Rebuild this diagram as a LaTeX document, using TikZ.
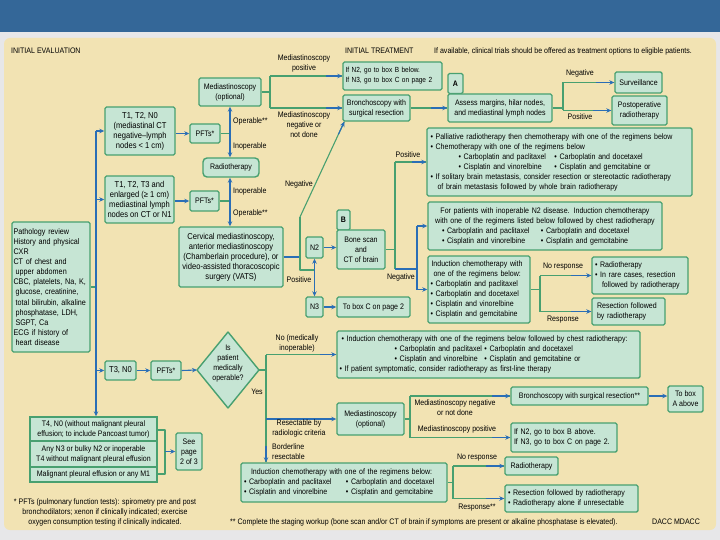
\documentclass[tikz,border=0pt]{standalone}
\usepackage{fontspec}
\setmainfont{Liberation Sans}[FakeStretch=0.88]
\usetikzlibrary{arrows.meta,calc}
\definecolor{bfill}{RGB}{198,229,212}
\definecolor{bline}{RGB}{72,160,112}
\definecolor{barrow}{RGB}{42,110,182}
\definecolor{beige}{RGB}{242,227,179}
\definecolor{topband}{RGB}{52,103,152}
\definecolor{grayb}{RGB}{231,231,233}
\newcommand\fontMain{\fontsize{8}{10}\selectfont}
\newcommand\fontBig{\fontsize{8.6}{10}\selectfont}
\newcommand\fontPath{\fontsize{8.2}{10.1}\selectfont}
\newcommand\fontSmall{\fontsize{7.4}{10}\selectfont}
\tikzset{
 bx/.style={draw=bline, fill=bfill, line width=1.4pt, rounded corners=1.5pt, inner sep=0pt, align=center, font=\fontMain},
 lbl/.style={inner sep=0pt, align=center, font=\fontMain},
 gl/.style={draw=bline, line width=1.1pt, line join=round},
 bl/.style={draw=barrow, line width=1.1pt, line join=round},
 arr/.style={draw=barrow, line width=1.1pt, -{Stealth[length=5pt,width=4.5pt]}},
 dia/.style={draw=bline, fill=bfill, line width=1.4pt, line join=round},
}
\begin{document}
\begin{tikzpicture}[x=1pt,y=-1pt]
\useasboundingbox (0,0) rectangle (720,540);
\fill[grayb] (0,0) rectangle (720,540);
\fill[topband] (0,0) rectangle (720,32);
\fill[beige, rounded corners=6pt] (4,38) rectangle (716,530);

% headers
\node[lbl, anchor=west] (hEval) at (11,51) {INITIAL EVALUATION};
\node[lbl, anchor=west] (hTreat) at (345,51) {INITIAL TREATMENT};
\node[lbl, anchor=west] (hTrials) at (434,51) {If available, clinical trials should be offered as treatment options to eligible patients.};

% left column
\node[bx, font=\fontPath, minimum width=78pt, minimum height=130pt, text width=75pt, align=left] (path) at (51,287)
 {Pathology review\\History and physical\\CXR\\CT of chest and\\\hspace*{2pt}upper abdomen\\CBC, platelets, Na, K,\\\hspace*{2pt}glucose, creatinine,\\\hspace*{2pt}total bilirubin, alkaline\\\hspace*{2pt}phosphatase, LDH,\\\hspace*{2pt}SGPT, Ca\\ECG if history of\\\hspace*{2pt}heart disease};
\node[bx, font=\fontBig, minimum width=70pt, minimum height=48pt] (t1n0) at (140,131) {T1, T2, N0\\(mediastinal CT\\negative--lymph\\nodes < 1 cm)};
\node[bx, font=\fontBig, minimum width=69pt, minimum height=47pt] (t123) at (139.5,199.5) {T1, T2, T3 and\\enlarged (≥ 1 cm)\\mediastinal lymph\\nodes on CT or N1};
\node[bx, font=\fontBig, minimum width=31pt, minimum height=19pt] (t3n0) at (120.5,370.5) {T3, N0};
\node[bx, rounded corners=0pt, minimum width=127pt, minimum height=24pt] (t4a) at (93.5,429) {T4, N0 (without malignant pleural\\effusion; to include Pancoast tumor)};
\node[bx, rounded corners=0pt, minimum width=127pt, minimum height=26pt] (t4b) at (93.5,454) {Any N3 or bulky N2 or inoperable\\T4 without malignant pleural effusion};
\node[bx, rounded corners=0pt, minimum width=127pt, minimum height=15pt] (t4c) at (93.5,474.5) {Malignant pleural effusion or any M1};
\node[bx, minimum width=26pt, minimum height=37pt] (seepage) at (189,451.5) {See\\page\\2 of 3};

% PFTs and related
\node[bx, minimum width=30pt, minimum height=19pt] (pft1) at (205,133.5) {PFTs*};
\node[bx, minimum width=29pt, minimum height=20pt] (pft2) at (204.5,201) {PFTs*};
\node[bx, minimum width=30pt, minimum height=19pt] (pft3) at (166,370.5) {PFTs*};
\node[bx, minimum width=62pt, minimum height=28pt] (med1) at (230,92) {Mediastinoscopy\\(optional)};
\node[bx, rounded corners=4pt, minimum width=56pt, minimum height=19pt] (radio1) at (231,167.5) {Radiotherapy};
\node[bx, font=\fontBig, minimum width=104pt, minimum height=60pt] (cerv) at (231,257) {Cervical mediastinoscopy,\\anterior mediastinoscopy\\(Chamberlain procedure), or\\video-assisted thoracoscopic\\surgery (VATS)};

% N2 / N3
\node[bx, minimum width=17pt, minimum height=21pt] (n2) at (314.5,247.5) {N2};
\node[bx, minimum width=17pt, minimum height=20pt] (n3) at (314.5,307) {N3};
\node[bx, minimum width=13pt, minimum height=20pt] (btab) at (343.5,220) {\textbf{B}};
\node[bx, minimum width=48pt, minimum height=39pt] (bmain) at (361,249.5) {Bone scan\\and\\CT of brain};
\node[bx, minimum width=73pt, minimum height=20pt] (toC) at (373.5,307) {To box C on page 2};

% top treatment
\node[bx, font=\fontSmall, minimum width=99pt, minimum height=28pt, text width=94pt, align=left] (ifN2top) at (392.5,76) {If N2, go to box B below.\\If N3, go to box C on page 2};
\node[bx, minimum width=67pt, minimum height=26pt] (bronch) at (376.5,108) {Bronchoscopy with\\surgical resection};
\node[bx, minimum width=15pt, minimum height=20pt] (atab) at (455.5,83.5) {\textbf{A}};
\node[bx, minimum width=104pt, minimum height=28pt] (amain) at (500,108) {Assess margins, hilar nodes,\\and mediastinal lymph nodes};
\node[bx, minimum width=47pt, minimum height=21pt] (surv) at (638.5,82.5) {Surveillance};
\node[bx, minimum width=55pt, minimum height=29pt] (postop) at (639.5,110.5) {Postoperative\\radiotherapy};

\node[bx, minimum width=265pt, minimum height=68pt, text width=258pt, align=left] (pall) at (559.5,162)
 {• Palliative radiotherapy then chemotherapy with one of the regimens below\\
  • Chemotherapy with one of the regimens below\\
  \hspace*{28pt}\makebox[96pt][l]{• Carboplatin and paclitaxel}• Carboplatin and docetaxel\\
  \hspace*{28pt}\makebox[96pt][l]{• Cisplatin and vinorelbine}• Cisplatin and gemcitabine or\\
  • If solitary brain metastasis, consider resection or stereotactic radiotherapy\\
  \hspace*{7pt}of brain metastasis followed by whole brain radiotherapy};
\node[bx, minimum width=234pt, minimum height=48pt, text width=228pt, align=left] (forpat) at (545,226)
 {\makebox[228pt][c]{For patients with inoperable N2 disease. Induction chemotherapy}\\
  \makebox[228pt][c]{with one of the regimens listed below followed by chest radiotherapy}\\
  \hspace*{11pt}\makebox[99pt][l]{• Carboplatin and paclitaxel}• Carboplatin and docetaxel\\
  \hspace*{11pt}\makebox[99pt][l]{• Cisplatin and vinorelbine}• Cisplatin and gemcitabine};
\node[bx, minimum width=102pt, minimum height=67pt, text width=97pt, align=left] (induct1) at (479,289.5)
 {\hspace*{1pt}Induction chemotherapy with\\\hspace*{3pt}one of the regimens below:\\• Carboplatin and paclitaxel\\• Carboplatin and docetaxel\\• Cisplatin and vinorelbine\\• Cisplatin and gemcitabine};
\node[bx, minimum width=96pt, minimum height=37pt, text width=90pt, align=left] (radbul) at (640,275.5)
 {• Radiotherapy\\• In rare cases, resection\\\hspace*{7pt}followed by radiotherapy};
\node[bx, minimum width=73pt, minimum height=27pt, text width=67pt, align=left] (resec1) at (628.5,311.5)
 {\hspace*{2pt}Resection followed\\\hspace*{2pt}by radiotherapy};

% T3 N0 pathway
\coordinate (dl) at (197,370);
\coordinate (dt) at (228,332);
\coordinate (dr) at (259,370);
\coordinate (db) at (228,408);
\filldraw[dia] (dl) -- (dt) -- (dr) -- (db) -- cycle;
\node[lbl] (opq) at (228,364) {Is\\patient\\medically\\operable?};

\node[bx, minimum width=303pt, minimum height=47pt, text width=298pt, align=left] (induct2) at (488.5,354.5)
 {\hspace*{2pt}• Induction chemotherapy with one of the regimens below followed by chest radiotherapy:\\
  \hspace*{55pt}\makebox[90pt][l]{• Carboplatin and paclitaxel}• Carboplatin and docetaxel\\
  \hspace*{55pt}\makebox[90pt][l]{• Cisplatin and vinorelbine}• Cisplatin and gemcitabine or\\
  • If patient symptomatic, consider radiotherapy as first-line therapy};
\node[bx, minimum width=67pt, minimum height=32pt] (med2) at (370.5,419) {Mediastinoscopy\\(optional)};
\node[bx, minimum width=137pt, minimum height=18pt] (bronch2) at (579.5,396) {Bronchoscopy with surgical resection**};
\node[bx, minimum width=35pt, minimum height=26pt] (toA) at (685.5,399) {To box\\A above};
\node[bx, minimum width=106pt, minimum height=29pt, text width=100pt, align=left] (ifN2bot) at (564,437.5)
 {If N2, go to box B above.\\If N3, go to box C on page 2.};
\node[bx, minimum width=206pt, minimum height=39pt, text width=200pt, align=left] (induct3) at (344,482.5)
 {\hspace*{7pt}Induction chemotherapy with one of the regimens below:\\
  \makebox[102pt][l]{• Carboplatin and paclitaxel}• Carboplatin and docetaxel\\
  \makebox[102pt][l]{• Cisplatin and vinorelbine}• Cisplatin and gemcitabine};
\node[bx, minimum width=53pt, minimum height=18pt] (radio3) at (531.5,466) {Radiotherapy};
\node[bx, minimum width=133pt, minimum height=27pt, text width=127pt, align=left] (resec3) at (571.5,498.5)
 {• Resection followed by radiotherapy\\• Radiotherapy alone if unresectable};

% ---------- connectors ----------
% trunk
\coordinate (trT) at (96,131);
\draw[gl] (path.east) -- (path.east -| trT);
\draw[arr] (trT) -- (trT |- t4a.north);
\draw[arr] (trT |- t1n0.west) -- (t1n0.west);
\draw[arr] (trT |- t123.west) -- (t123.west);
\draw[arr] (trT |- t3n0.west) -- (t3n0.west);

% PFTs 1
\draw[arr] (t1n0.east |- pft1.west) -- (pft1.west);
\coordinate (j1) at (230,133.5);
\draw[gl] (pft1.east) -- (j1);
\draw[arr] (j1) -- (j1 |- med1.south);
\draw[arr] (j1) -- (j1 |- radio1.north);
\node[lbl, anchor=west] (lOp1) at (233,121) {Operable**};
\node[lbl, anchor=west] (lIn1) at (233,146) {Inoperable};

% PFTs 2
\draw[arr] (t123.east |- pft2.west) -- (pft2.west);
\coordinate (j3) at (230,201);
\draw[gl] (pft2.east) -- (j3);
\draw[arr] (j3) -- (j3 |- radio1.south);
\draw[arr] (j3) -- (j3 |- cerv.north);
\node[lbl, anchor=west] (lIn2) at (233,191) {Inoperable};
\node[lbl, anchor=west] (lOp2) at (233,213) {Operable**};

% mediastinoscopy 1 branches
\coordinate (j2) at (270,92);
\draw[gl] (med1.east) -- (j2);
\draw[gl] (j2 |- ifN2top.west) -- (j2 |- bronch.west);
\draw[gl] (j2 |- ifN2top.west) -- (ifN2top.west);
\draw[arr] ($(ifN2top.west)+(-16,0)$) -- (ifN2top.west);
\draw[gl] (j2 |- bronch.west) -- (bronch.west);
\draw[arr] ($(bronch.west)+(-16,0)$) -- (bronch.west);
\node[lbl] (lMpos) at (304,63) {Mediastinoscopy\\positive};
\node[lbl] (lMneg) at (304,125) {Mediastinoscopy\\negative or\\not done};

% cervical branches
\coordinate (jc) at (300,257);
\coordinate (jneg) at (300,217);
\coordinate (jpos) at (314.5,270);
\coordinate (bsw) at ([xshift=2pt]bronch.south west);
\draw[bl] (cerv.east) -- (jc);
\draw[gl] (jneg) -- (jneg |- jpos) -- (jpos);
\draw[gl] (jneg) -- (bsw);
\draw[arr] ($(bsw)!14pt!(jneg)$) -- (bsw);
\draw[arr] (jpos) -- (n2.south);
\draw[arr] (jpos) -- (n3.north);
\node[lbl] (lNeg1) at (299,184) {Negative};
\node[lbl] (lPos1) at (299,280) {Positive};
\draw[arr] (n2.east) -- (n2.east -| bmain.west);
\draw[arr] (n3.east) -- (toC.west);

% B branches
\coordinate (j4) at (395,249.5);
\coordinate (j4t) at (395,162);
\coordinate (j4b) at (395,269);
\coordinate (j5) at (417,269);
\draw[gl] (bmain.east) -- (j4);
\draw[gl] (j4t) -- (j4b);
\draw[gl] (j4t) -- (pall.west);
\draw[arr] ($(pall.west)+(-14,0)$) -- (pall.west);
\draw[bl] (j4b) -- (j5);
\draw[bl] (j5 |- forpat.west) -- (j5 |- induct1.west);
\draw[arr] (j5 |- forpat.west) -- (forpat.west);
\draw[arr] (j5 |- induct1.west) -- (induct1.west);
\node[lbl] (lPos2) at (408,155) {Positive};
\node[lbl] (lNeg2) at (401,277) {Negative};

% bronchoscopy -> A
\draw[gl] (bronch.east) -- (amain.west);
\draw[arr] ($(amain.west)+(-16,0)$) -- (amain.west);
\coordinate (j6) at (563,108);
\draw[gl] (amain.east) -- (j6);
\draw[gl] (j6 |- surv.west) -- (j6 |- postop.west);
\draw[gl] (j6 |- surv.west) -- (surv.west);
\draw[arr] ($(surv.west)+(-18,0)$) -- (surv.west);
\draw[gl] (j6 |- postop.west) -- (postop.west);
\draw[arr] ($(postop.west)+(-18,0)$) -- (postop.west);
\node[lbl] (lNeg3) at (580,73) {Negative};
\node[lbl] (lPos3) at (580,117) {Positive};

% induct1 branches
\coordinate (j7) at (540,289.5);
\draw[gl] (induct1.east) -- (j7);
\draw[gl] (j7 |- radbul.west) -- (j7 |- resec1.west);
\draw[gl] (j7 |- radbul.west) -- (radbul.west);
\draw[arr] ($(radbul.west)+(-20,0)$) -- (radbul.west);
\draw[gl] (j7 |- resec1.west) -- (resec1.west);
\draw[arr] ($(resec1.west)+(-20,0)$) -- (resec1.west);
\node[lbl] (lNr1) at (563,267) {No response};
\node[lbl] (lR1) at (563,320) {Response};

% T3 N0 row
\draw[arr] (t3n0.east) -- (pft3.west);
\draw[arr] (pft3.east) -- (dl);
\coordinate (j8) at (266,370);
\draw[gl] (dr) -- (j8);
\draw[gl] (j8 |- induct2.west) -- (j8 |- induct3.north);
\draw[gl] (j8 |- induct2.west) -- (induct2.west);
\draw[arr] ($(induct2.west)+(-16,0)$) -- (induct2.west);
\draw[arr] (j8 |- med2.west) -- (med2.west);
\draw[arr] ($(j8 |- induct3.north)+(0,-16)$) -- (j8 |- induct3.north);
\node[lbl] (lNoMed) at (297,343) {No (medically\\inoperable)};
\node[lbl] (lYes) at (257,392) {Yes};
\node[lbl] (lResec) at (299,428) {Resectable by\\radiologic criteria};
\node[lbl, anchor=west, align=left] (lBord) at (272,452) {Borderline\\resectable};

% mediastinoscopy 2 branches
\coordinate (j9) at (410,419);
\draw[gl] (med2.east) -- (j9);
\draw[gl] (j9 |- bronch2.west) -- (j9 |- ifN2bot.west);
\draw[gl] (j9 |- bronch2.west) -- (bronch2.west);
\draw[arr] ($(bronch2.west)+(-18,0)$) -- (bronch2.west);
\draw[gl] (j9 |- ifN2bot.west) -- (ifN2bot.west);
\draw[arr] ($(ifN2bot.west)+(-18,0)$) -- (ifN2bot.west);
\node[lbl] (lMneg2) at (455,408) {Mediastinoscopy negative\\or not done};
\node[lbl] (lMpos2) at (457,429) {Mediastinoscopy positive};
\draw[arr] (bronch2.east) -- (bronch2.east -| toA.west);

% induct3 branches
\coordinate (j10) at (453,482.5);
\draw[gl] (induct3.east) -- (j10);
\draw[gl] (j10 |- radio3.west) -- (j10 |- resec3.west);
\draw[gl] (j10 |- radio3.west) -- (radio3.west);
\draw[arr] ($(radio3.west)+(-18,0)$) -- (radio3.west);
\draw[gl] (j10 |- resec3.west) -- (resec3.west);
\draw[arr] ($(resec3.west)+(-18,0)$) -- (resec3.west);
\node[lbl] (lNr3) at (477,458) {No response};
\node[lbl] (lR3) at (477,508) {Response**};

% T4 bracket
\coordinate (bk1) at (165,430);
\coordinate (bk2) at (165,474);
\draw[gl] (t4a.east |- bk1) -- (bk1) -- (bk2) -- (t4c.east |- bk2);
\draw[arr] (bk1 |- seepage.west) -- (seepage.west);

% footnotes
\node[lbl] (fn1) at (105,512) {* PFTs (pulmonary function tests): spirometry pre and post\\bronchodilators; xenon if clinically indicated; exercise\\oxygen consumption testing if clinically indicated.};
\node[lbl, anchor=west] (fn2) at (230,522) {** Complete the staging workup (bone scan and/or CT of brain if symptoms are present or alkaline phosphatase is elevated).};
\node[lbl, anchor=west] (fn3) at (652,522) {DACC MDACC};
\end{tikzpicture}
\end{document}
